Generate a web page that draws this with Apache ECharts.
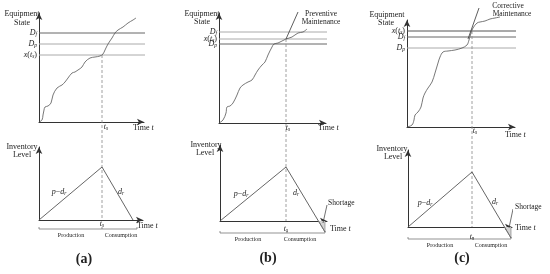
<!DOCTYPE html>
<html><head><meta charset="utf-8">
<script src="https://cdn.jsdelivr.net/npm/echarts@6/dist/echarts.min.js"></script>
<style>html,body{margin:0;padding:0;background:#fff}#c{width:550px;height:274px}</style>
</head><body><div id="c"></div>
<script>
// ---------------- data ----------------
// equipment degradation curves: [time, state]
const stateCurveA = [[0,0],[3,2],[4,7],[5,12],[6,15],[9,16],[12,19],[14,27],[18,34],[23,37],[26,40],[29,44],[33,49],[36,50],[39,52],[43,55],[46,60],[51,64],[56,65],[61,66],[64,68],[66,72],[69,78],[73,84],[76,89],[79,92],[84,95],[89,99],[94,102],[97,104]];
const stateCurveB = [[0,0],[4,3],[7,10],[8,16],[11,17],[14,20],[18,28],[21,35],[24,38],[29,41],[33,43],[36,48],[39,53],[43,58],[46,61],[49,68],[53,76],[55,79],[59,80],[63,82],[67,84],[73,86],[79,90],[84,91],[88,94]];
const stateCurveC = [[0,0],[5,2],[7,7],[8,12],[11,15],[14,20],[16,29],[18,34],[21,39],[25,45],[28,54],[31,64],[33,70],[36,75],[41,76],[48,77],[55,79],[60,82],[62,87],[64,94],[66,99],[70,104],[73,105],[78,106],[83,108],[88,109],[93,110]];
// thresholds: D_f, D_p, x(t_s)
const thresholdsA = [89, 78, 67];
const thresholdsB = [91, 79, 84];
const thresholdsC = [90, 79, 96];
const thresholdNames = ['{i|D}{s|f}', '{i|D}{s|p}', '{i|x}{n|(}{i|t}{s|s}{n|)}'];
const switchTime = [63, 67, 65];       // t_s per panel
const horizon = [106, 111, 109];       // extent of threshold lines
// maintenance pointer lines (top panels b, c)
const maintPointerB = [[67,84],[79,111]];
const maintPointerC = [[61,88],[72,119]];
// inventory level: [time, level]
const inventoryA = [[0,0],[63,53],[94,0]];
const inventoryB = [[0,0],[66,54],[105,-11]];
const inventoryC = [[0,0],[64,55],[103,-11]];
const shortageB = [[98.5,0],[105,-11]];
const shortageC = [[96.5,0],[103,-11]];
const shortagePointerB = [[107,16],[103,-2]];
const shortagePointerC = [[105,18],[101,-1]];
const cycleEnd = [98, 105, 103];       // end of production+consumption span

// ---------------- layout ----------------
const panels = [
  {top:{left:39, top:13, w:105, h:109}, bot:{left:39, top:147, w:104, h:73}, bracketY:-9,
   thrColors:['#666','#aaa','#aaa']},
  {top:{left:219, top:13, w:107, h:110}, bot:{left:220, top:145, w:107, h:76}, bracketY:-12,
   thrColors:['#aaa','#666','#aaa']},
  {top:{left:407, top:20, w:108, h:107}, bot:{left:408, top:150, w:104, h:77}, bracketY:-12,
   thrColors:['#666','#aaa','#555']}
];
const SERIF = '"Liberation Serif","DejaVu Serif",serif';
const INK = '#222';
const CURVE = '#555';

const grids = [], xAxes = [], yAxes = [], series = [], graphics = [];
function addGrid(g){
  const i = grids.length;
  grids.push({left:g.left, top:g.top, width:g.w, height:g.h, containLabel:false});
  const axisLine = {show:true, symbol:['none','arrow'], symbolSize:[5,7], lineStyle:{color:'#333', width:1}};
  const common = {type:'value', gridIndex:i, min:0, axisLine, axisTick:{show:false}, axisLabel:{show:false}, splitLine:{show:false}};
  xAxes.push(Object.assign({}, common, {max:g.w}));
  yAxes.push(Object.assign({}, common, {max:g.h}));
  return i;
}
function line(gi, data, color, width, extra){
  series.push(Object.assign({type:'line', xAxisIndex:gi, yAxisIndex:gi, data, symbol:'none', showSymbol:false,
    silent:true, animation:false, clip:false, lineStyle:{color, width}}, extra||{}));
}
const RICH = {
  i:{fontStyle:'italic', fontSize:8, lineHeight:10, fontFamily:SERIF, fill:INK, color:INK},
  n:{fontSize:8, lineHeight:10, fontFamily:SERIF, fill:INK, color:INK},
  s:{fontStyle:'italic', fontSize:5.5, lineHeight:10, verticalAlign:'bottom', fontFamily:SERIF, fill:INK, color:INK}
};
function txt(x, y, text, size, opt){
  opt = opt || {};
  const al = opt.align || 'center';
  graphics.push({type:'text', x, y, silent:true, z:100, style:{text, fill:INK, fontSize:size, fontFamily:SERIF,
    fontStyle:opt.italic?'italic':'normal', fontWeight:opt.bold?'bold':'normal',
    align:al, textAlign:al, verticalAlign:'middle', textVerticalAlign:'middle', rich:RICH}});
}

const curves = [stateCurveA, stateCurveB, stateCurveC];
const thresholds = [thresholdsA, thresholdsB, thresholdsC];
const inventories = [inventoryA, inventoryB, inventoryC];
const shortages = [null, shortageB, shortageC];
const shortagePointers = [null, shortagePointerB, shortagePointerC];
const maintPointers = [null, maintPointerB, maintPointerC];

panels.forEach((p, k) => {
  const gt = addGrid(p.top);
  const gb = addGrid(p.bot);
  const ts = switchTime[k];
  const thr = thresholds[k];
  thr.forEach((v, j) => {
    line(gt, [[0, v], [horizon[k], v]], p.thrColors[j], 1);
    txt(p.top.left - 2, p.top.top + p.top.h - v, thresholdNames[j], 8, {align:'right'});
  });
  line(gt, curves[k], CURVE, 0.8, {smooth:0.35, z:3});
  if (maintPointers[k]) line(gt, maintPointers[k], '#333', 0.8);
  const drop = (p.bot.top + p.bot.h) - (p.top.top + p.top.h);
  line(gt, [[ts, thr[2]], [ts, -drop]], '#888', 0.8, {lineStyle:{color:'#888', width:0.8, type:[3,2]}});
  line(gb, inventories[k], '#555', 0.9);
  if (shortages[k]) {
    const s = shortages[k];
    line(gb, s, '#777', 0.6, {areaStyle:{color:'#d4d4d4', opacity:1}});
    line(gb, [[s[1][0], 0], [s[1][0], s[1][1]]], '#777', 0.6);
    line(gb, shortagePointers[k], '#333', 0.7);
  }
  const by = p.bracketY;
  line(gb, [[0, by], [cycleEnd[k], by]], '#666', 0.7);
  [0, ts, cycleEnd[k]].forEach(x => line(gb, [[x, by], [x, by + 2]], '#666', 0.7));
});

// ---------------- texts ----------------
// panel (a)
txt(22, 14, 'Equipment', 8); txt(22, 23, 'State', 8);
txt(106, 127, '{i|t}{s|s}', 8);
txt(133, 128, 'Time {i|t}', 8, {align:'left'});
txt(22, 147, 'Inventory', 8); txt(22, 155, 'Level', 8);
txt(59, 192, '{i|p}{n|−}{i|d}{s|r}', 8);
txt(121, 192, '{i|d}{s|r}', 8);
txt(102, 224, '{i|t}{s|s}', 8);
txt(137, 226, 'Time {i|t}', 8, {align:'left'});
txt(71, 235, 'Production', 6); txt(121, 235, 'Consumption', 6);
txt(84, 259, '(a)', 14, {bold:true});
// panel (b)
txt(202, 14, 'Equipment', 8); txt(202, 22, 'State', 8);
txt(321, 14, 'Preventive', 7.5); txt(321, 22, 'Maintenance', 7.5);
txt(288, 128, '{i|t}{s|s}', 8);
txt(318, 128, 'Time {i|t}', 8, {align:'left'});
txt(206, 145, 'Inventory', 8); txt(205, 153, 'Level', 8);
txt(241, 194, '{i|p}{n|−}{i|d}{s|r}', 8);
txt(296, 193, '{i|d}{s|r}', 8);
txt(328, 203, 'Shortage', 7.5, {align:'left'});
txt(286, 229, '{i|t}{s|s}', 8);
txt(330, 229, 'Time {i|t}', 8, {align:'left'});
txt(248, 239, 'Production', 6); txt(300, 239, 'Consumption', 6);
txt(268, 258, '(b)', 14, {bold:true});
// panel (c)
txt(387, 15, 'Equipment', 8); txt(386, 23, 'State', 8);
txt(508, 6, 'Corrective', 7.5); txt(512, 14, 'Maintenance', 7.5);
txt(475, 131, '{i|t}{s|s}', 8);
txt(505, 135, 'Time {i|t}', 8, {align:'left'});
txt(392, 149, 'Inventory', 8); txt(393, 157, 'Level', 8);
txt(425, 203, '{i|p}{n|−}{i|d}{s|r}', 8);
txt(495, 202, '{i|d}{s|r}', 8);
txt(515, 207, 'Shortage', 7.5, {align:'left'});
txt(472, 237, '{i|t}{s|s}', 8);
txt(515, 228, 'Time {i|t}', 8, {align:'left'});
txt(440, 245, 'Production', 6); txt(491, 245, 'Consumption', 6);
txt(462, 258, '(c)', 14, {bold:true});

const chart = echarts.init(document.getElementById('c'), null, {renderer:'canvas'});
chart.setOption({
  animation:false,
  backgroundColor:'#fff',
  grid:grids, xAxis:xAxes, yAxis:yAxes, series, graphic:graphics
});
</script></body></html>
